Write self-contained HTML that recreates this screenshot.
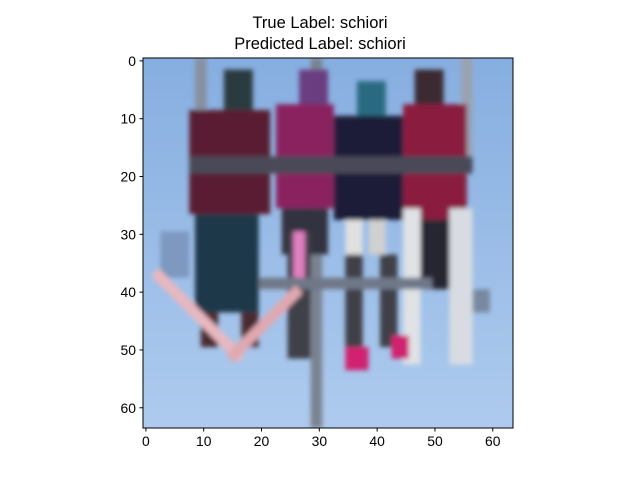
<!DOCTYPE html>
<html><head><meta charset="utf-8"><style>
body{margin:0;background:#fff;width:640px;height:480px;overflow:hidden;font-family:"Liberation Sans","DejaVu Sans",sans-serif}
</style></head><body>
<svg width="640" height="480" xmlns="http://www.w3.org/2000/svg">
<defs>
<linearGradient id="sky" x1="0" y1="0" x2="0" y2="1"><stop offset="0" stop-color="#86aee0"/><stop offset="1" stop-color="#aecbee"/></linearGradient>
<filter id="bl"><feGaussianBlur stdDeviation="2.5"/></filter>
<clipPath id="clip"><rect x="143" y="58" width="370" height="370"/></clipPath>
</defs>
<text x="320" y="28" text-anchor="middle" font-size="16.5">True Label: schiori</text>
<text x="320" y="49" text-anchor="middle" font-size="16.5">Predicted Label: schiori</text>
<g clip-path="url(#clip)">
<rect x="143" y="58" width="370" height="370" fill="url(#sky)"/>
<g id="shapes" filter="url(#bl)"></g>
</g>
<rect x="143" y="58" width="370" height="370" fill="none" stroke="#000" stroke-width="1"/>
<g id="ticks" font-size="13.9"></g>
</svg>
<script>
const xTicks=[0,10,20,30,40,50,60];
const yTicks=[0,10,20,30,40,50,60];
const nPix=64;
// image regions: [col0,row0,col1,row1,color]
const regions=[
[29,0,31,64,'#7a8290'],[9,0,11,20,'#8890a0'],[55,0,57,20,'#9aa2b0'],
[3,30,8,38,'#7e98c0'],
[14,2,19,9,'#2a3a40'],[8,9,22,27,'#5a1e30'],[9,27,20,44,'#1e3848'],[10,44,13,50,'#4a2a30'],[17,44,20,50,'#4a2a30'],
[27,2,32,9,'#6a3c80'],[23,8,33,26,'#8a2060'],[24,26,32,34,'#303040'],[25,30,29,52,'#404048'],[26,30,28,38,'#e080c0'],
[37,4,42,11,'#2a6a80'],[33,10,45,28,'#1a1e38'],[35,28,38,34,'#e0e0e0'],[39,28,42,34,'#d0d0d0'],[35,34,38,50,'#404048'],[41,34,44,50,'#404048'],
[47,2,52,9,'#3a2a30'],[45,8,56,28,'#8a1a40'],[46,28,55,40,'#282830'],[45,26,48,53,'#e0e2e6'],[53,26,57,53,'#d8dce2'],
[8,17,57,20,'#484a58'],[20,38,50,40,'#707888'],
[35,50,39,54,'#d02070'],[43,48,46,52,'#d02070'],[57,40,60,44,'#7888a0']
];
const px=c=>143+c*370/nPix, py=r=>58+r*370/nPix;
const g=document.getElementById('shapes');
const NS='http://www.w3.org/2000/svg';
regions.forEach(r=>{const e=document.createElementNS(NS,'rect');


e.setAttribute('x',px(r[0]));e.setAttribute('y',py(r[1]));e.setAttribute('width',px(r[2])-px(r[0]));e.setAttribute('height',py(r[3])-py(r[1]));e.setAttribute('fill',r[4]);g.appendChild(e);});
[[2,37,17,52,'#e8b8c0'],[27,40,15,52,'#e0a8b0']].forEach(s=>{const l=document.createElementNS(NS,'line');


l.setAttribute('x1',px(s[0]));l.setAttribute('y1',py(s[1]));l.setAttribute('x2',px(s[2]));l.setAttribute('y2',py(s[3]));l.setAttribute('stroke',s[4]);l.setAttribute('stroke-width',11);g.appendChild(l);});
const t=document.getElementById('ticks');
xTicks.forEach(v=>{const x=px(v+0.5);
const l=document.createElementNS(NS,'line');


l.setAttribute('x1',x);l.setAttribute('x2',x);l.setAttribute('y1',428);l.setAttribute('y2',431.5);l.setAttribute('stroke','#000');t.appendChild(l);
const tx=document.createElementNS(NS,'text');


tx.setAttribute('x',x);tx.setAttribute('y',446);tx.setAttribute('text-anchor','middle');tx.textContent=v;t.appendChild(tx);});
yTicks.forEach(v=>{const y=py(v+0.5);
const l=document.createElementNS(NS,'line');


l.setAttribute('x1',139.5);l.setAttribute('x2',143);l.setAttribute('y1',y);l.setAttribute('y2',y);l.setAttribute('stroke','#000');t.appendChild(l);
const tx=document.createElementNS(NS,'text');


tx.setAttribute('x',136);tx.setAttribute('y',y+5);tx.setAttribute('text-anchor','end');tx.textContent=v;t.appendChild(tx);});
</script>
</body></html>
